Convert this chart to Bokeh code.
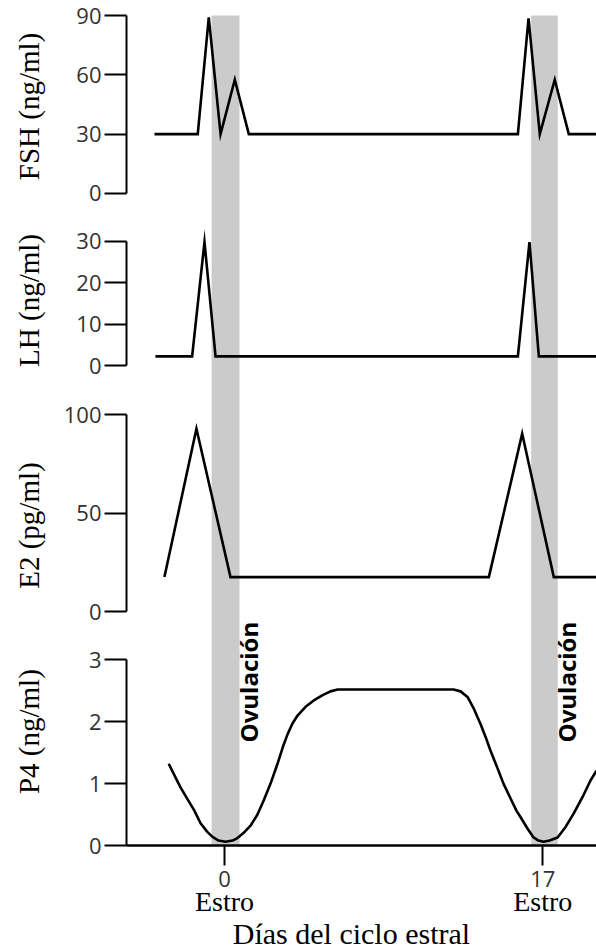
import math
from bokeh.plotting import figure
from bokeh.models import Range1d, FixedTicker, BoxAnnotation, Label, LinearAxis
from bokeh.embed import file_html
from bokeh.resources import INLINE

# ---------------- data (days of the oestrous cycle) ----------------
fsh_day = [-3.74, -1.43, -0.84, -0.21, 0.55, 1.30, 15.67, 16.24, 16.84, 17.64, 18.39, 19.87]
fsh_val = [30, 30, 89, 30, 57.5, 30, 30, 88.5, 30, 57.5, 30, 30]

lh_day = [-3.69, -1.73, -1.07, -0.48, 15.67, 16.29, 16.79, 19.87]
lh_val = [2.2, 2.2, 29.8, 2.2, 2.2, 29.8, 2.2, 2.2]

e2_day = [-3.21, -1.50, 0.32, 14.12, 15.90, 17.59, 19.87]
e2_val = [17.5, 92.9, 17.5, 17.5, 90.4, 17.5, 17.5]

p4_day = [-2.98, -2.62, -2.35, -1.98, -1.64, -1.28, -0.92, -0.64, -0.32, 0.05,
          0.43, 0.69, 1.01, 1.39, 1.76, 2.08, 2.46, 2.83, 3.15, 3.37,
          3.63, 3.90, 4.33, 4.75, 5.24, 5.66, 6.04, 12.23, 12.61, 12.98,
          13.30, 13.68, 13.95, 14.21, 14.58, 14.90, 15.28, 15.60, 15.81, 16.19,
          16.51, 16.77, 17.04, 17.36, 17.79, 18.22, 18.64, 19.12, 19.55, 19.87]
p4_val = [1.32, 1.10, 0.94, 0.75, 0.58, 0.36, 0.22, 0.14, 0.08, 0.06,
          0.08, 0.12, 0.20, 0.32, 0.50, 0.72, 1.00, 1.32, 1.62, 1.80,
          1.97, 2.10, 2.24, 2.34, 2.43, 2.49, 2.52, 2.52, 2.49, 2.40,
          2.22, 1.96, 1.75, 1.53, 1.25, 1.00, 0.76, 0.56, 0.46, 0.27,
          0.13, 0.08, 0.06, 0.08, 0.13, 0.30, 0.51, 0.78, 1.05, 1.21]

ovulation_start = [-0.69, 16.38]
ovulation_end = [0.80, 17.80]

fsh_ticks = [0, 30, 60, 90]
lh_ticks = [0, 10, 20, 30]
e2_ticks = [0, 50, 100]
p4_ticks = [0, 1, 2, 3]
day_ticks = [0, 17]
day_tick_labels = ["0", "17"]
phase_labels = ["Estro", "Estro"]

titles = ["FSH (ng/ml)", "LH (ng/ml)", "E2 (pg/ml)", "P4 (ng/ml)"]
band_label = "Ovulación"
x_title = "Días del ciclo estral"

# ---------------- layout / style ----------------
W, H = 596, 951
X_LEFT_AXIS = -5.235           # day value where the y axes stand
SERIF = "Liberation Serif"
SANS = "Open Sans"
BAND = "#cbcbcb"
TICK_COLOR = "#333333"
LW = 2.6

# one canvas; each hormone gets its own vertical scale placed in its band of the page
p = figure(width=W, height=H, x_range=Range1d(-11.966, 19.87), y_range=Range1d(-1.7124, 13.651),
           output_backend="svg", toolbar_location=None, title=None,
           x_axis_location=None, y_axis_location=None,
           min_border_left=0, min_border_right=0, min_border_top=0, min_border_bottom=0)
p.outline_line_color = None
p.grid.visible = False
p.background_fill_color = "white"
p.border_fill_color = "white"

p.extra_y_ranges = {
    "fsh": Range1d(-383.26, 97.584),
    "lh": Range1d(-141.43, 88.094),
    "e2": Range1d(-172.85, 310.63),
}

# ovulation bands: from FSH top (90) down to the P4 zero line
for s, e in zip(ovulation_start, ovulation_end):
    p.add_layout(BoxAnnotation(left=s, right=e, top=90, y_range_name="fsh",
                               fill_color=BAND, fill_alpha=1.0, line_color=None, level="underlay"))
p.add_layout(BoxAnnotation(top=0, fill_color="white", fill_alpha=1.0, line_color=None, level="underlay"))


def style_axis(ax, ticks, bounds):
    ax.ticker = FixedTicker(ticks=ticks)
    ax.bounds = bounds
    ax.axis_line_width = 2
    ax.axis_line_color = "black"
    ax.major_tick_line_width = 2
    ax.major_tick_line_color = "black"
    ax.major_tick_out = 22
    ax.major_tick_in = 0
    ax.minor_tick_line_color = None
    ax.major_label_standoff = 3
    ax.major_label_text_font = SANS
    ax.major_label_text_font_size = "22px"
    ax.major_label_text_color = TICK_COLOR


panels = [
    ("fsh", fsh_ticks, (0, 90), titles[0], 44.0),
    ("lh", lh_ticks, (0, 30), titles[1], 15.7),
    ("e2", e2_ticks, (0, 100), titles[2], 43.7),
    ("default", p4_ticks, (0, 3), titles[3], 1.84),
]
for rname, ticks, bounds, title, ty in panels:
    ax = LinearAxis(y_range_name=rname, fixed_location=X_LEFT_AXIS)
    style_axis(ax, ticks, bounds)
    p.add_layout(ax, "left")
    p.add_layout(Label(x=-10.42, y=ty, y_range_name=rname, text=title, angle=math.pi / 2,
                       text_align="center", text_baseline="middle",
                       text_font=SERIF, text_font_size="29px", text_color="black"))

p.line(fsh_day, fsh_val, y_range_name="fsh", line_color="black", line_width=LW, line_join="miter")
p.line(lh_day, lh_val, y_range_name="lh", line_color="black", line_width=LW, line_join="miter")
p.line(e2_day, e2_val, y_range_name="e2", line_color="black", line_width=LW, line_join="miter")
p.line(p4_day, p4_val, line_color="black", line_width=LW, line_join="round")

# x axis on the P4 zero line
xa = LinearAxis(fixed_location=0)
xa.ticker = FixedTicker(ticks=day_ticks)
xa.major_label_overrides = {t: l for t, l in zip(day_ticks, day_tick_labels)}
xa.bounds = (X_LEFT_AXIS, 19.87)
xa.axis_line_width = 2.5
xa.axis_line_color = "black"
xa.major_tick_line_width = 2
xa.major_tick_line_color = "black"
xa.major_tick_out = 20
xa.major_tick_in = 0
xa.minor_tick_line_color = None
xa.major_label_standoff = 5
xa.major_label_text_font = SANS
xa.major_label_text_font_size = "22px"
xa.major_label_text_color = TICK_COLOR
p.add_layout(xa, "below")

for t, lab in zip(day_ticks, phase_labels):
    p.add_layout(Label(x=t, y=-0.9, text=lab, text_align="center", text_baseline="middle",
                       text_font=SERIF, text_font_size="28px", text_color="black"))
p.add_layout(Label(x=6.78, y=-1.42, text=x_title, text_align="center", text_baseline="middle",
                   text_font=SERIF, text_font_size="30px", text_color="black"))

for s, e in zip(ovulation_start, ovulation_end):
    p.add_layout(Label(x=e + 0.48, y=2.64, text=band_label, angle=math.pi / 2,
                       text_align="center", text_baseline="middle",
                       text_font=SANS, text_font_style="bold", text_font_size="24px",
                       text_color="black"))

open("out.html", "w").write(file_html(p, INLINE))
